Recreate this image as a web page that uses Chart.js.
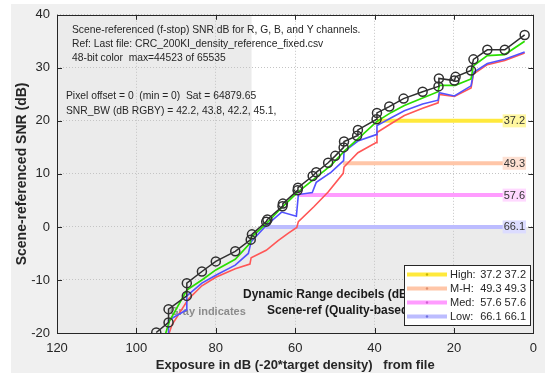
<!DOCTYPE html>
<html>
<head>
<meta charset="utf-8">
<script src="https://cdn.jsdelivr.net/npm/chart.js@4.4.1/dist/chart.umd.min.js"></script>
<style>
  html, body { margin: 0; padding: 0; background: #fff; }
  #wrap { width: 545px; height: 373px; }
</style>
</head>
<body>
<div id="wrap"><canvas id="c" width="545" height="373"></canvas></div>
<script>
// Y channel (black, circles)
const expY = [95.0, 91.9, 91.9, 87.3, 87.3, 83.5, 80.0, 75.1, 71.2, 70.9, 67.3, 67.0, 63.2, 63.1, 59.4, 59.3, 55.6, 54.7, 51.7, 49.9,
  47.8, 47.7, 44.4, 44.2, 39.5, 39.4, 36.3, 32.7, 27.9, 23.9, 23.8, 19.9, 19.6, 15.7, 15.1, 11.6, 7.2, 2.2];
const snrY = [-19.9, -18.0, -15.5, -13.0, -10.6, -8.4, -6.5, -4.6, -2.4, -1.4, 1.0, 1.4, 3.9, 4.4, 6.9, 7.4, 9.6, 10.3, 12.1, 13.4,
  15.0, 16.1, 17.2, 18.3, 20.3, 21.5, 22.7, 24.2, 25.5, 26.5, 28.0, 27.6, 28.3, 29.5, 31.6, 33.4, 33.4, 36.2];

// G channel
const expG = [93.0, 91.7, 87.3, 83.5, 80.0, 75.1, 71.4, 71.0, 67.3, 63.2, 59.4, 55.1, 51.0, 47.5, 44.2, 39.4, 35.8, 32.5, 27.9, 24.0,
  23.7, 19.7, 15.7, 15.1, 11.6, 7.2, 2.2];
const snrG = [-21.0, -17.8, -11.9, -10.0, -8.1, -6.1, -3.1, -1.9, 0.6, 3.8, 6.5, 9.1, 11.6, 14.4, 16.6, 19.9, 21.6, 22.9, 24.3, 25.5,
  26.7, 26.7, 27.9, 30.4, 32.3, 32.5, 35.0];

// B channel
const expB = [91.9, 91.9, 87.3, 87.3, 83.5, 80.0, 75.1, 71.8, 71.1, 67.4, 63.4, 59.7, 59.2, 55.7, 54.7, 51.0, 47.8, 47.7, 44.2, 39.6,
  39.4, 35.8, 32.5, 27.9, 24.0, 23.7, 19.9, 15.7, 15.1, 11.6, 7.2, 2.2];
const snrB = [-21.0, -17.6, -15.6, -13.0, -10.6, -9.1, -7.2, -5.0, -2.8, 0.2, 2.8, 2.0, 6.1, 6.5, 8.4, 10.3, 12.5, 14.2, 16.2, 17.4,
  19.1, 20.6, 21.9, 23.2, 23.9, 25.3, 24.7, 26.6, 29.1, 30.8, 31.6, 33.0];

// R channel
const expR = [92.2, 91.0, 86.9, 83.5, 80.0, 75.1, 71.4, 71.1, 67.3, 64.3, 61.8, 59.6, 59.2, 55.3, 51.7, 47.9, 47.7, 44.2, 39.6, 39.4,
  35.8, 32.5, 27.9, 24.0, 23.7, 19.9, 15.7, 15.1, 11.6, 7.2, 2.2];
const snrR = [-21.0, -18.4, -13.6, -11.1, -9.5, -7.9, -7.0, -5.8, -4.4, -2.6, -1.2, -0.1, 1.0, 3.8, 6.6, 10.1, 11.3, 14.0, 15.9, 17.8,
  19.5, 21.0, 22.4, 23.4, 25.0, 24.6, 26.2, 28.8, 30.6, 31.4, 32.8];

// dynamic range levels
const bandNames = ["High", "M-H", "Med", "Low"];
const bandLevels = [20, 12, 6, 0];
const bandStart = [39.4, 48.0, 59.3, 67.5];
const bandEnd = 6.5;
const bandDR = [37.2, 49.3, 57.6, 66.1];
const grayFrom = 71; // exposure beyond which the plot is shaded

const xTicks = [120, 100, 80, 60, 40, 20, 0];
const yTicks = [-20, -10, 0, 10, 20, 30, 40];

const noteLines = [
  "Scene-referenced (f-stop) SNR dB for R, G, B, and Y channels.",
  "Ref: Last file: CRC_200KI_density_reference_fixed.csv",
  "48-bit color  max=44523 of 65535"
];
const infoLines = [
  "Pixel offset = 0  (min = 0)  Sat = 64879.65",
  "SNR_BW (dB RGBY) = 42.2, 43.8, 42.2, 45.1,"
];

const F = '"Liberation Sans", Arial, sans-serif';
const INK = "#262626";
const bandColors = ["#ffe93c", "#ffc6a8", "#ff9cff", "#bcbcff"];
const bandBg = ["#fff7a0", "#fde0d2", "#ffd8ff", "#dcdcff"];
const bandDot = ["#c8b400", "#e09070", "#d060d0", "#7070e0"];

const pts = (xs, ys) => xs.map((v, i) => ({ x: v, y: ys[i] }));

const datasets = [
  { data: pts(expY, snrY), showLine: true, borderColor: "#303030", borderWidth: 1.5,
    pointRadius: 4.5, pointBorderWidth: 1.5, pointBorderColor: "#303030", pointBackgroundColor: "rgba(0,0,0,0)", order: 1 },
  { data: pts(expG, snrG), showLine: true, borderColor: "#2ade00", borderWidth: 1.7, pointRadius: 0, order: 2 },
  { data: pts(expB, snrB), showLine: true, borderColor: "#5252ff", borderWidth: 1.6, pointRadius: 0, order: 3 },
  { data: pts(expR, snrR), showLine: true, borderColor: "#ff5656", borderWidth: 1.6, pointRadius: 0, order: 4 },
];
bandLevels.forEach((lvl, i) => {
  datasets.push({
    data: [{ x: bandStart[i], y: lvl }, { x: bandEnd, y: lvl }],
    showLine: true, borderColor: bandColors[i], borderWidth: 4, pointRadius: 0, order: 10 + i
  });
});

const decor = {
  id: "decor",
  beforeDraw(chart) {
    const { ctx, chartArea: a, scales: { x, y } } = chart;
    ctx.save();
    ctx.fillStyle = "#ffffff";
    ctx.fillRect(0, 0, chart.width, chart.height);
    ctx.fillStyle = "#f0f0f0";
    ctx.fillRect(11, 4, chart.width - 11, chart.height - 4);
    ctx.fillStyle = "#ffffff";
    ctx.fillRect(a.left, a.top, a.right - a.left, a.bottom - a.top);
    ctx.fillStyle = "#ebebeb";
    const xg = x.getPixelForValue(grayFrom);
    ctx.fillRect(a.left, a.top, xg - a.left, a.bottom - a.top);
    const y0 = y.getPixelForValue(0);
    ctx.fillRect(a.left, y0, a.right - a.left, a.bottom - y0);
    ctx.restore();
  },
  beforeDatasetsDraw(chart) {
    const { ctx } = chart;
    ctx.save();
    ctx.font = "bold 11px " + F;
    ctx.fillStyle = "#8c8c8c";
    ctx.textBaseline = "middle";
    ctx.fillText("Gray indicates", 170, 312);
    ctx.restore();
  },
  afterDatasetsDraw(chart) {
    const { ctx, scales: { x, y } } = chart;
    ctx.save();
    // band value tags
    ctx.font = "11px " + F;
    ctx.textBaseline = "middle";
    ctx.textAlign = "center";
    bandLevels.forEach((lvl, i) => {
      const px = x.getPixelForValue(4.8), py = y.getPixelForValue(lvl);
      const t = bandDR[i].toFixed(1);
      const w = ctx.measureText(t).width + 2;
      ctx.fillStyle = bandBg[i];
      ctx.fillRect(px - w / 2, py - 6.5, w, 13);
      ctx.fillStyle = "#333";
      ctx.fillText(t, px, py + 0.5);
    });
    // notes
    ctx.textAlign = "left";
    ctx.font = "10.3px " + F;
    ctx.fillStyle = INK;
    noteLines.forEach((t, i) => ctx.fillText(t, 72, 30.5 + i * 13.8));
    infoLines.forEach((t, i) => ctx.fillText(t, 66, 96.5 + i * 14.2));
    ctx.font = "bold 12px " + F;
    ctx.fillStyle = "#1a1a1a";
    ctx.fillText("Dynamic Range decibels (dB)", 243, 295);
    ctx.fillText("Scene-ref (Quality-based)", 267, 311);
    ctx.restore();
  },
  afterDraw(chart) {
    const { ctx, chartArea: a, scales: { x, y } } = chart;
    ctx.save();
    // box + inward ticks
    ctx.strokeStyle = INK;
    ctx.lineWidth = 1;
    ctx.strokeRect(Math.round(a.left) + 0.5, Math.round(a.top) + 0.5, Math.round(a.right - a.left), Math.round(a.bottom - a.top));
    ctx.beginPath();
    xTicks.forEach(v => {
      const px = Math.round(x.getPixelForValue(v)) + 0.5;
      ctx.moveTo(px, a.bottom); ctx.lineTo(px, a.bottom - 5);
      ctx.moveTo(px, a.top); ctx.lineTo(px, a.top + 5);
    });
    yTicks.forEach(v => {
      const py = Math.round(y.getPixelForValue(v)) + 0.5;
      ctx.moveTo(a.left, py); ctx.lineTo(a.left + 5, py);
      ctx.moveTo(a.right, py); ctx.lineTo(a.right - 5, py);
    });
    ctx.stroke();

    // legend
    const lx = 404, ly = 265, lw = 126, lh = 60;
    ctx.fillStyle = "#ffffff";
    ctx.fillRect(lx, ly, lw, lh);
    ctx.strokeStyle = INK;
    ctx.strokeRect(lx + 0.5, ly + 0.5, lw, lh);
    ctx.font = "11px " + F;
    ctx.textBaseline = "middle";
    bandNames.forEach((n, i) => {
      const ry = ly + 9.5 + i * 14;
      ctx.strokeStyle = bandColors[i];
      ctx.lineWidth = 4;
      ctx.beginPath();
      ctx.moveTo(lx + 3, ry); ctx.lineTo(lx + 43, ry);
      ctx.stroke();
      ctx.fillStyle = bandDot[i];
      ctx.beginPath();
      ctx.arc(lx + 23, ry, 1.2, 0, Math.PI * 2);
      ctx.fill();
      ctx.fillStyle = INK;
      ctx.textAlign = "left";
      ctx.fillText(n + ":", lx + 46, ry);
      ctx.textAlign = "right";
      ctx.fillText(bandDR[i].toFixed(1) + " " + bandDR[i].toFixed(1), lx + lw - 4, ry);
    });
    ctx.restore();
  }
};

new Chart(document.getElementById("c"), {
  type: "scatter",
  data: { datasets },
  options: {
    responsive: false,
    animation: false,
    layout: { padding: { top: 13.5, right: 8, left: 0, bottom: 0 } },
    plugins: { legend: { display: false }, tooltip: { enabled: false } },
    scales: {
      x: {
        type: "linear", reverse: true, min: 0, max: 120,
        afterBuildTicks: (s) => { s.ticks = xTicks.map(v => ({ value: v })); },
        ticks: { color: INK, font: { family: F, size: 13 }, padding: 8, maxRotation: 0 },
        grid: { color: "#c4c4c4", drawTicks: false },
        border: { display: false, dash: [1, 2] },
        title: { display: true, text: "Exposure in dB (-20*target density)   from file", color: INK,
          font: { family: F, size: 13, weight: "bold" }, padding: { top: 0, bottom: 0 } },
        afterFit: (s) => { s.height = 40; }
      },
      y: {
        type: "linear", min: -20, max: 40,
        afterBuildTicks: (s) => { s.ticks = yTicks.map(v => ({ value: v })); },
        ticks: { color: INK, font: { family: F, size: 13 }, padding: 7 },
        grid: { color: "#c4c4c4", drawTicks: false },
        border: { display: false, dash: [1, 2] },
        title: { display: true, text: "Scene-referenced SNR (dB)", color: INK,
          font: { family: F, size: 14, weight: "bold" }, padding: { top: 13.5, bottom: 0 } },
        afterFit: (s) => { s.width = 57; }
      }
    }
  },
  plugins: [decor]
});
</script>
</body>
</html>
